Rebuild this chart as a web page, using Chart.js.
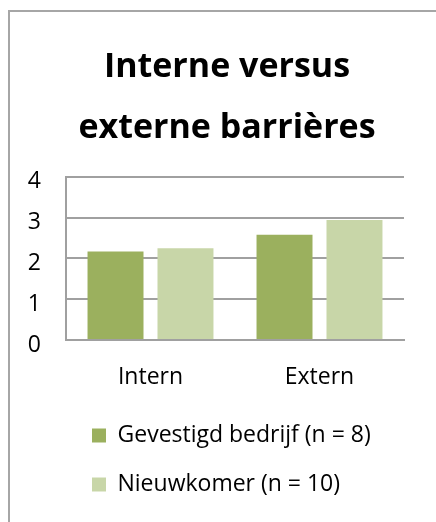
<!DOCTYPE html>
<html>
<head>
<meta charset="utf-8">
<script src="https://cdn.jsdelivr.net/npm/chart.js@4"></script>
<style>
  html, body { margin: 0; padding: 0; background: #fff; overflow: hidden; }
  #frame {
    position: absolute; left: 8px; top: 10px;
    border-left: 2px solid #a6a6a6; border-top: 2px solid #a6a6a6;
    width: 434px; height: 510px;
  }
</style>
</head>
<body>
<div id="frame"><canvas id="barrierChart" width="434" height="510"></canvas></div>
<script>
// Data
const categories = ['Intern', 'Extern'];
const gevestigd = [2.17, 2.58];
const nieuwkomer = [2.25, 2.94];
const yTicks = [0, 1, 2, 3, 4];

const barrierCtx = document.getElementById('barrierChart').getContext('2d');
const barrierChart = new Chart(barrierCtx, {
    type: 'bar',
    data: {
        labels: categories,
        datasets: [{
            label: 'Gevestigd bedrijf (n = 8)',
            data: gevestigd,
            backgroundColor: '#9bb05e',
        }, {
            label: 'Nieuwkomer (n = 10)',
            data: nieuwkomer,
            backgroundColor: '#c8d6a8',
        }]
    },
    options: {
        responsive: false,
        animation: false,
        layout: {
            padding: { left: 0, right: 0, top: 0, bottom: 16 }
        },
        datasets: {
            bar: { categoryPercentage: 0.828, barPercentage: 0.8 }
        },
        scales: {
            x: {
                grid: { display: false },
                border: { display: true, color: '#a0a0a0', width: 2 },
                ticks: { color: '#000', padding: 16, font: { family: 'Open Sans', size: 23 } },
                afterFit: (scale) => { scale.height = 58; }
            },
            y: {
                min: 0,
                max: 4,
                afterBuildTicks: (scale) => { scale.ticks = yTicks.map(v => ({ value: v })); },
                grid: { color: '#a0a0a0', lineWidth: 2, drawTicks: false },
                border: { display: true, color: '#a0a0a0', width: 2 },
                ticks: { color: '#000', padding: 25, labelOffset: 5, font: { family: 'Open Sans', size: 23 } },
                afterFit: (scale) => { scale.width = 56; }
            },
            // empty right-hand space, keeps the title centred on the frame
            yRight: {
                position: 'right',
                grid: { display: false },
                border: { display: false },
                ticks: { display: false },
                afterFit: (scale) => { scale.width = 40; }
            }
        },
        plugins: {
            title: {
                display: true,
                text: ['Interne versus', 'externe barrières'],
                color: '#000',
                font: { family: 'Open Sans', size: 34, weight: 'bold', lineHeight: 1.79 },
                padding: { top: 25, bottom: 18 }
            },
            legend: {
                position: 'bottom',
                align: 'start',
                fullSize: false,
                labels: {
                    color: '#000',
                    boxWidth: 14,
                    boxHeight: 14,
                    padding: 26,
                    font: { family: 'Open Sans', size: 23 }
                }
            },
            tooltip: { enabled: false }
        }
    }
});
</script>
</body>
</html>
